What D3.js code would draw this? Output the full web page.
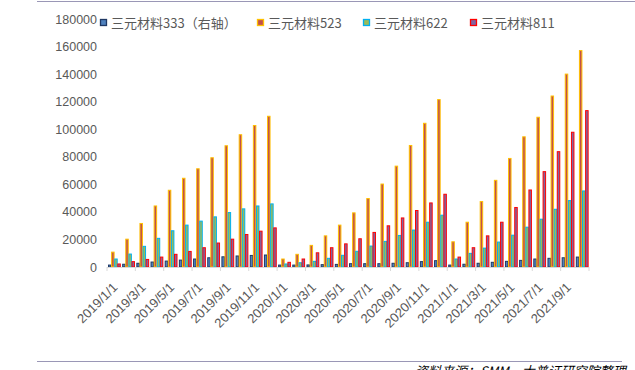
<!DOCTYPE html>
<html><head><meta charset="utf-8">
<script src="https://cdn.jsdelivr.net/npm/d3@7"></script>
<style>
html,body{margin:0;padding:0;background:#fff;}
svg{display:block;}
</style></head>
<body>
<svg id="chart" width="635" height="370"></svg>
<script>
const months = [
 "2019/1/1","2019/2/1","2019/3/1","2019/4/1","2019/5/1","2019/6/1","2019/7/1","2019/8/1","2019/9/1","2019/10/1","2019/11/1","2019/12/1",
 "2020/1/1","2020/2/1","2020/3/1","2020/4/1","2020/5/1","2020/6/1","2020/7/1","2020/8/1","2020/9/1","2020/10/1","2020/11/1","2020/12/1",
 "2021/1/1","2021/2/1","2021/3/1","2021/4/1","2021/5/1","2021/6/1","2021/7/1","2021/8/1","2021/9/1","2021/10/1"];
// 333 is on a (hidden) right axis; values expressed in that axis' units
const s333 = [1400,2000,2700,3600,4300,5000,5800,6700,7400,8000,8400,8700,
  1400,1400,1500,1700,1900,2400,2400,2400,2700,3100,3900,4600,
  1400,2000,2700,3400,4100,4800,5800,6300,6700,7200];
const s523 = [10800,20200,31600,44300,55700,64400,71300,79300,88000,96000,102700,109400,
  5800,9200,15700,22600,30400,39300,49700,60200,73200,88200,104300,121500,
  18300,32500,47500,62900,78800,94500,108700,124100,140000,157100];
const s622 = [5800,9400,15000,20800,26300,30400,33300,36400,39500,42200,44300,45800,
  2200,3100,4100,6300,8500,11400,15200,18600,22900,26800,32500,37600,
  5800,9900,13700,18100,23100,28900,34700,41900,48200,55200];
const s811 = [2200,3900,5500,7200,9200,11300,14000,17400,20200,23600,26000,28400,
  3400,5800,10300,14000,16800,20500,25100,29900,35600,41000,46500,52800,
  7200,14000,22600,32500,43200,55900,69200,83700,97800,113500];
const yTicks = [0,20000,40000,60000,80000,100000,120000,140000,160000,180000];
const seriesNames = ["三元材料333（右轴）","三元材料523","三元材料622","三元材料811"];
const seriesKeys = ["s333","s523","s622","s811"];
const fills = ["#4f81bd","#c0504d","#9bbb59","#8064a2"];
const strokes = ["#1f3864","#ffc000","#00b0f0","#ff0000"];
const footer = "资料来源：SMM，大普证研究院整理";

const svg = d3.select("#chart");
const pL = 107, pR = 589, pT = 19, pB = 267;
const x0 = d3.scaleBand().domain(months).range([pL, pR]).padding(0);
const x1 = d3.scaleBand().domain(seriesKeys).range([1.2, 13.6]).padding(0);
const y = d3.scaleLinear().domain([0,180000]).range([pB, pT]);
const yRight = d3.scaleLinear().domain([0,180000]).range([pB, pT]);

const table = months.map((m,i)=>({m, s333:s333[i], s523:s523[i], s622:s622[i], s811:s811[i]}));

// frame lines
svg.append("line").attr("x1",37).attr("x2",635).attr("y1",1.5).attr("y2",1.5).attr("stroke","#9a97b6").attr("stroke-width",1.2);
svg.append("line").attr("x1",37).attr("x2",622).attr("y1",361.5).attr("y2",361.5).attr("stroke","#9a97b6").attr("stroke-width",1.2);

// y axis
const yAxis = svg.append("g").attr("transform",`translate(${pL},0)`)
  .call(d3.axisLeft(y).tickValues(yTicks).tickSize(0).tickPadding(10).tickFormat(d3.format("d")));
yAxis.select(".domain").remove();
yAxis.selectAll("text").attr("fill","#595959").style("font-family","'Liberation Sans', Arial, sans-serif").style("font-size","12.5px");

// bars
const groups = svg.append("g").selectAll("g").data(table).join("g")
  .attr("transform", d=>`translate(${x0(d.m)},0)`);
seriesKeys.forEach((k,si)=>{
  const sc = k==="s333" ? yRight : y;
  groups.append("rect")
    .attr("x", x1(k)+0.3)
    .attr("width", x1.bandwidth()-0.6)
    .attr("y", d=>sc(d[k]))
    .attr("height", d=>Math.max(0, pB - sc(d[k])))
    .attr("fill", fills[si])
    .attr("stroke", strokes[si])
    .attr("stroke-width", 1);
});

// x axis
const xg = svg.append("g");
xg.append("line").attr("x1",pL).attr("x2",pR).attr("y1",pB+0.5).attr("y2",pB+0.5).attr("stroke","#d9d9d9").attr("stroke-width",1);
const tickIdx = months.map((m,i)=>i).filter(i=>i%2===0).concat([months.length]);
xg.selectAll("line.tk").data(tickIdx).join("line").attr("class","tk")
  .attr("x1", i=> i<months.length ? x0(months[i]) : pR)
  .attr("x2", i=> i<months.length ? x0(months[i]) : pR)
  .attr("y1", pB).attr("y2", pB+4).attr("stroke","#d9d9d9");
const labelled = months.filter((m,i)=>i%2===0);
xg.selectAll("text").data(labelled).join("text")
  .attr("transform", d=>`translate(${x0(d)+x0.bandwidth()/2+1},${pB+18}) rotate(-45)`)
  .attr("text-anchor","end")
  .attr("dy","0.35em")
  .attr("fill","#595959")
  .style("font-family","'Liberation Sans', Arial, sans-serif")
  .style("font-size","13px")
  .text(d=>d);

// legend
const legX = [100, 257, 363, 470];
const lg = svg.append("g");
seriesNames.forEach((n,i)=>{
  lg.append("rect").attr("x",legX[i]+0.5).attr("y",19.5).attr("width",6).attr("height",6)
    .attr("fill",fills[i]).attr("stroke",strokes[i]).attr("stroke-width",1.3);
  lg.append("text").attr("x",legX[i]+11).attr("y",23).attr("dy","0.36em")
    .attr("fill","#595959")
    .style("font-family","'Noto Sans CJK SC', sans-serif").style("font-size","13px")
    .text(n);
});

// footer (clipped at bottom, as in the source image)
svg.append("text").attr("x",415).attr("y",376)
  .attr("fill","#000").style("font-style","italic")
  .style("font-family","'Noto Sans CJK SC', sans-serif").style("font-size","13px")
  .text(footer);
</script>
</body></html>
